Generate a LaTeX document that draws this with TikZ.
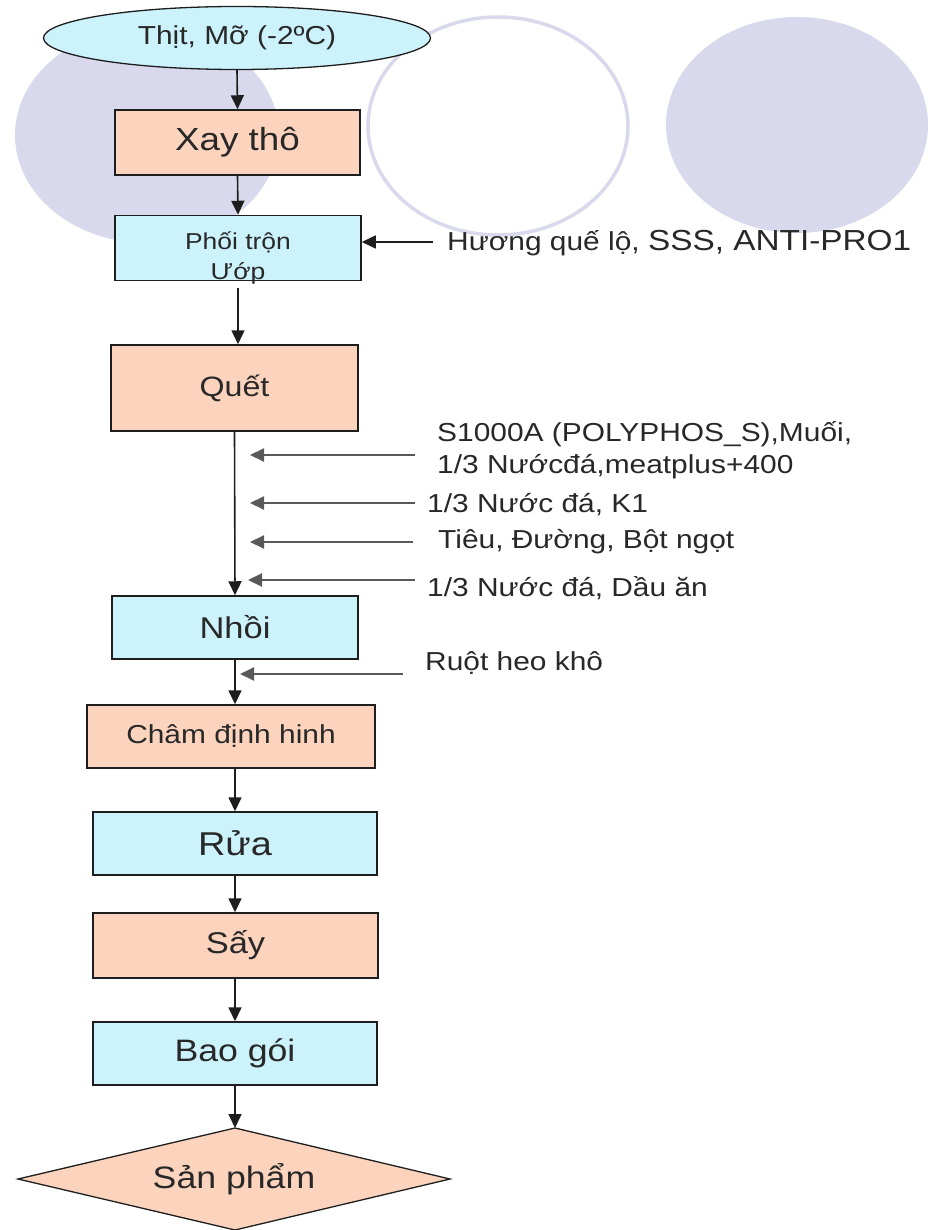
\documentclass[tikz,border=0pt]{standalone}
\usepackage{fontspec}
\setmainfont{Liberation Sans}[FakeStretch=1.15]
\usetikzlibrary{arrows.meta,shapes.geometric}
\definecolor{peach}{RGB}{252,212,190}
\definecolor{lcyan}{RGB}{204,242,251}
\definecolor{lav}{RGB}{217,217,238}
\definecolor{ink}{RGB}{40,40,40}
\definecolor{edge}{RGB}{30,30,30}
\tikzset{
  box/.style={draw=edge, line width=1.5pt, rectangle, inner sep=0pt, text=ink},
  pbox/.style={box, fill=peach},
  cbox/.style={box, fill=lcyan},
  arr/.style={-{Triangle[length=14pt,width=13pt]}, line width=1.6pt, draw=edge},
  sarr/.style={-{Triangle[length=14pt,width=13pt]}, line width=2pt, draw=black!65},
  lab/.style={anchor=west, inner sep=0pt, text=ink, align=left, font=\fontsize{26}{32}\selectfont},
}
\begin{document}
\begin{tikzpicture}[x=1pt,y=-1pt]
\useasboundingbox (0,0) rectangle (932,1230);
\fill[white] (0,0) rectangle (932,1230);
% background decoration
\fill[lav] (147,135) ellipse [x radius=132, y radius=108];
\draw[lav, line width=3.5pt] (498,126) ellipse [x radius=130, y radius=109];
\fill[lav] (797,125) ellipse [x radius=131, y radius=108];

% nodes
\node[ellipse, draw=edge, line width=1.3pt, fill=lcyan, minimum width=387, minimum height=63, inner sep=0pt, text=ink, font=\fontsize{26}{30}\selectfont] (ell) at (237,38) {Thịt, Mỡ (-2ºC)};
\node[pbox, minimum width=245, minimum height=65, font=\fontsize{32}{36}\selectfont] (xay) at (237.5,142.5) {Xay thô};
\node[cbox, minimum width=246, minimum height=65] (phoi) at (238,248) {};
\node[inner sep=0pt, text=ink, align=center, font=\fontsize{23}{30}\selectfont] (phoitext) at (238,258) {Phối trộn\\Ướp};
\node[pbox, minimum width=247, minimum height=86, font=\fontsize{28}{32}\selectfont] (quet) at (234.5,388) {Quết};
\node[cbox, minimum width=246, minimum height=63, font=\fontsize{30}{34}\selectfont] (nhoi) at (235,627.5) {Nhồi};
\node[pbox, minimum width=288, minimum height=63, font=\fontsize{26}{30}\selectfont] (cham) at (231,736.5) {Châm định hinh};
\node[cbox, minimum width=284, minimum height=63, font=\fontsize{33}{36}\selectfont] (rua) at (235,843.5) {Rửa};
\node[pbox, minimum width=285, minimum height=65, font=\fontsize{30}{34}\selectfont] (say) at (235.5,945.5) {Sấy};
\node[cbox, minimum width=284, minimum height=63, font=\fontsize{31}{34}\selectfont] (bao) at (235,1053.5) {Bao gói};
% product diamond
\coordinate (spl) at (18,1179);
\coordinate (spt) at (235,1128);
\coordinate (spr) at (450,1179);
\coordinate (spb) at (235,1230);
\filldraw[fill=peach, draw=edge, line width=1.3pt] (spl) -- (spt) -- (spr) -- (spb) -- cycle;
\node[inner sep=0pt, text=ink, font=\fontsize{31}{34}\selectfont] (sp) at (234,1179) {Sản phẩm};

% side labels
\node[lab] (huong) at (447,243) {{\fontsize{26}{32}\selectfont Hương quế lộ, }{\fontsize{29}{34}\selectfont SSS, ANTI-PRO1}};
\node[lab] (l1) at (437,450) {S1000A (POLYPHOS\_S),Muối,\\1/3 Nướcđá,meatplus+400};
\node[lab] (l2) at (427,505) {1/3 Nước đá, K1};
\node[lab] (l3) at (438,542) {Tiêu, Đường, Bột ngọt};
\node[lab] (l4) at (427,588) {1/3 Nước đá, Dầu ăn};
\node[lab] (l5) at (425,663) {Ruột heo khô};

% coordinates for side arrows
\coordinate (hs) at (433,242);
\coordinate (a1s) at (415,455);  \coordinate (a1e) at (250,455);
\coordinate (a2s) at (415,503);  \coordinate (a2e) at (250,503);
\coordinate (a3s) at (413,542);  \coordinate (a3e) at (250,542);
\coordinate (a4s) at (415,580);  \coordinate (a4e) at (248,580);
\coordinate (a5s) at (403,674);  \coordinate (a5e) at (240,674);

% main flow
\draw[arr] (ell.south) -- (xay.north);
\draw[arr] (xay.south) -- (phoi.north);
\draw[arr, shorten <=7pt] (phoi.south) -- (phoi.south |- quet.north);
\draw[arr] (quet.south) -- (nhoi.north);
\draw[arr] (nhoi.south) -- (cham.north -| nhoi.south);
\draw[arr] (cham.south -| rua.north) -- (rua.north);
\draw[arr] (rua.south) -- (say.north -| rua.south);
\draw[arr] (say.south -| bao.north) -- (bao.north);
\draw[arr] (bao.south) -- (spt);

% side inputs
\draw[arr] (hs) -- (hs -| phoi.east);
\draw[sarr] (a1s) -- (a1e);
\draw[sarr] (a2s) -- (a2e);
\draw[sarr] (a3s) -- (a3e);
\draw[sarr] (a4s) -- (a4e);
\draw[sarr] (a5s) -- (a5e);
\end{tikzpicture}
\end{document}
